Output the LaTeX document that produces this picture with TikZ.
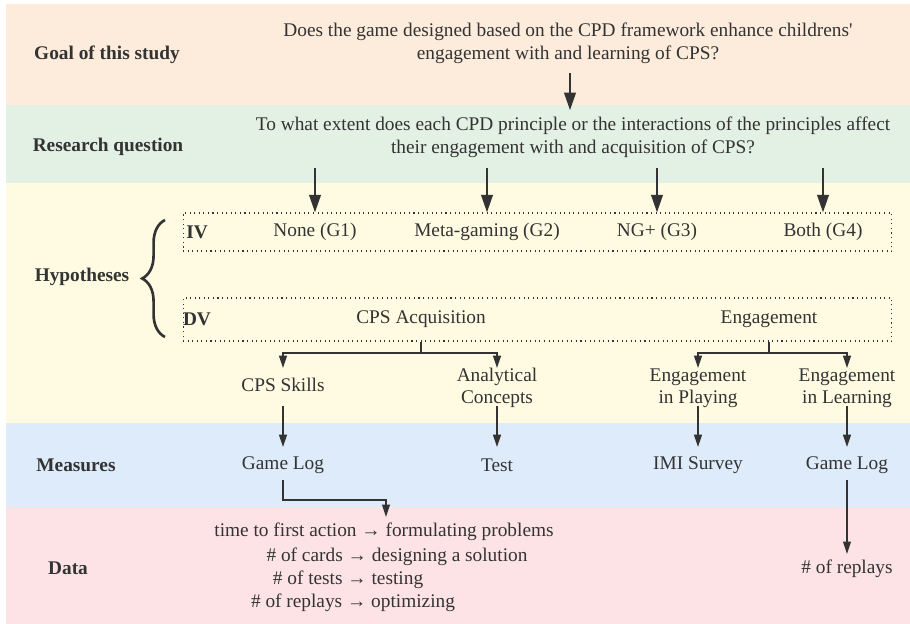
\documentclass[tikz,border=0pt]{standalone}
\usepackage{fontspec}
\setmainfont{Liberation Serif}
\usepackage{tikz}
\usetikzlibrary{positioning}
\usetikzlibrary{arrows.meta}
\usetikzlibrary{decorations.pathreplacing}
\definecolor{goalbg}{HTML}{FDECDB}
\definecolor{rqbg}{HTML}{E3F0E4}
\definecolor{hypbg}{HTML}{FEFBE2}
\definecolor{measbg}{HTML}{DDEBFA}
\definecolor{databg}{HTML}{FDE3E6}
\definecolor{ink}{HTML}{333333}
\tikzset{
  rowlabel/.style={font=\fontsize{11}{13}\selectfont\bfseries, text=ink},
  item/.style={font=\fontsize{11}{12.5}\selectfont, text=ink, align=center},
  bigarrow/.style={-{Triangle[length=10pt,width=6.5pt]}, line width=1.4pt, draw=ink},
  smallarrow/.style={-{Triangle[length=7pt,width=4.5pt]}, line width=0.7pt, draw=ink},
  varbox/.style={draw=ink, dotted, line width=0.6pt, minimum width=14.18cm}
}

\begin{document}
\begin{tikzpicture}[x=0.02cm, y=-0.02cm]
\useasboundingbox (0,0) rectangle (910,624);
\fill[goalbg] (6,4) rectangle (910,105);
\fill[rqbg] (6,105) rectangle (910,183);
\fill[hypbg] (6,183) rectangle (910,423);
\fill[measbg] (6,423) rectangle (910,507);
\fill[databg] (6,507) rectangle (910,624);

\node[rowlabel] (goal) at (107,55) {Goal of this study};
\node[rowlabel] (rqlabel) at (108,147) {Research question};
\node[rowlabel] (hyp) at (82,277) {Hypotheses};
\node[rowlabel] (meas) at (76,465) {Measures};
\node[rowlabel] (data) at (68,568) {Data};

\node[item, font=\fontsize{11}{13.2}\selectfont] (goalq) at (568,43.5) {Does the game designed based on the CPD framework enhance childrens\textquotesingle\\engagement with and learning of CPS?};
\node[item, font=\fontsize{11}{13.2}\selectfont] (rq) at (573,137) {To what extent does each CPD principle or the interactions of the principles affect\\their engagement with and acquisition of CPS?};

\node[varbox, minimum height=0.76cm] (ivbox) at (537.5,232) {};
\node[varbox, minimum height=0.86cm] (dvbox) at (537.5,319.5) {};
\node[rowlabel] (iv) at (197,232) {IV};
\node[rowlabel] (dv) at (197,319) {DV};

\node[item] (g1) at (315,232) {None (G1)};
\node[item] (g2) at (487,232) {Meta-gaming (G2)};
\node[item] (g3) at (657,232) {NG+ (G3)};
\node[item] (g4) at (823,232) {Both (G4)};

\node[item] (acq) at (421,319) {CPS Acquisition};
\node[item] (eng) at (769,319) {Engagement};

\node[item] (skills) at (283,385) {CPS Skills};
\node[item] (concepts) at (497,388) {Analytical\\Concepts};
\node[item] (playing) at (698,388) {Engagement\\in Playing};
\node[item] (learning) at (847,388) {Engagement\\in Learning};

\node[item] (log1) at (283,465) {Game Log};
\node[item] (test) at (497,465) {Test};
\node[item] (imi) at (698,465) {IMI Survey};
\node[item] (log2) at (847,465) {Game Log};

\node[item] (d1) at (384,532) {time to first action → formulating problems};
\node[item] (d2) at (397,557) {\# of cards → designing a solution};
\node[item] (d3) at (348,580) {\# of tests → testing};
\node[item] (d4) at (353,603) {\# of replays → optimizing};
\node[item] (replays) at (847,569) {\# of replays};

\coordinate (goalbase) at (570,73);
\coordinate (rqbase) at (0,168);
\coordinate (forky) at (0,353);
\coordinate (branchtip) at (0,368);
\coordinate (itembase) at (0,406);
\coordinate (meastop) at (0,447);
\coordinate (elbow) at (386,500);

\draw[bigarrow] (goalbase) -- (goalbase |- rq.north);
\foreach \g in {g1,g2,g3,g4} {
\draw[bigarrow] (\g |- rqbase) -- (\g |- ivbox.north);
}
\draw[decorate, decoration={brace, amplitude=13pt}, line width=1.5pt, draw=ink] (165,337) -- (165,220);

\draw[smallarrow] (dvbox.south -| acq) -- (acq |- forky) -| (skills |- branchtip);
\draw[smallarrow] (acq |- forky) -| (concepts |- branchtip);
\draw[smallarrow] (dvbox.south -| eng) -- (eng |- forky) -| (playing |- branchtip);
\draw[smallarrow] (eng |- forky) -| (learning |- branchtip);

\foreach \a/\b in {skills/log1, concepts/test, playing/imi, learning/log2} {
\draw[smallarrow] (\a |- itembase) -- (\b |- meastop);
}
\draw[smallarrow] (log1.south) |- (elbow) -- (elbow |- d1.north);
\draw[smallarrow] (log2.south) -- (replays.north);
\end{tikzpicture}
\end{document}
